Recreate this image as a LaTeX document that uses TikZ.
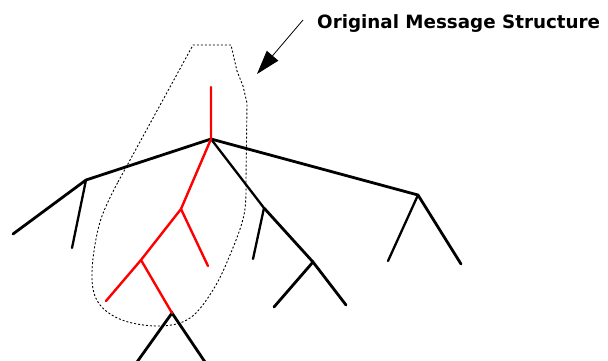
\documentclass[tikz,border=0pt]{standalone}
\usepackage{fontspec}
\setmainfont{DejaVu Sans}
\usetikzlibrary{arrows.meta}
\begin{document}
\begin{tikzpicture}[x=1pt,y=-1pt,
  blk/.style={line width=2.8pt,line cap=round,black},
  blkthin/.style={line width=2.3pt,line cap=round,black},
  redline/.style={line width=2.4pt,line cap=round,red},
  outline/.style={line width=0.9pt,dash pattern=on 2pt off 2pt,black},
  callout/.style={line width=0.8pt,-{Triangle[length=24pt,width=15pt]}},
  lbl/.style={font=\bfseries\fontsize{18.3}{22}\selectfont,inner sep=0pt,anchor=base west}]
\useasboundingbox (0,0) rectangle (608,360);
% tree points
\coordinate (top) at (211,87);
\coordinate (root) at (211,139);
\coordinate (L) at (86,180);
\coordinate (L1) at (13,234);
\coordinate (L2) at (72,248);
\coordinate (R) at (418,195);
\coordinate (R1) at (388,261);
\coordinate (R2) at (461,264);
\coordinate (M) at (264,208);
\coordinate (M1) at (253,259);
\coordinate (MM) at (313,262);
\coordinate (MM1) at (274,307);
\coordinate (MM2) at (346,305);
\coordinate (A) at (181,209);
\coordinate (A1) at (208,266);
\coordinate (B) at (141,260);
\coordinate (B1) at (106,301);
\coordinate (C) at (172,313);
\coordinate (C1) at (137,362);
\coordinate (C2) at (205,362);
% outline
\draw[outline] (118,182) -- (193,45) -- (231,45) -- (237,71) -- (243,86) -- (247,103) -- (246,180)
  -- plot[smooth,tension=0.6] coordinates {(246,180) (244,215) (230,255) (213,290) (190,318) (160,326) (122,320) (98,302) (92,272) (100,222) (118,182)};
% black tree
\draw[blk] (L1) -- (L) -- (root) -- (R) -- (R2);
\draw[blkthin] (L) -- (L2);
\draw[blkthin] (R) -- (R1);
\draw[blkthin] (root) -- (M);
\draw[blk] (M) -- (MM) -- (MM2);
\draw[blkthin] (M) -- (M1);
\draw[blk] (MM) -- (MM1);
\draw[blk] (C1) -- (C) -- (C2);
% red subtree
\draw[redline] (top) -- (root) -- (A) -- (B) -- (C);
\draw[redline] (A) -- (A1);
\draw[redline] (B) -- (B1);
% callout
\coordinate (a0) at (303,20);
\coordinate (a1) at (257,74);
\draw[callout] (a0) -- (a1);
\node[lbl] (title) at (317,28) {Original Message Structure};
\end{tikzpicture}
\end{document}
